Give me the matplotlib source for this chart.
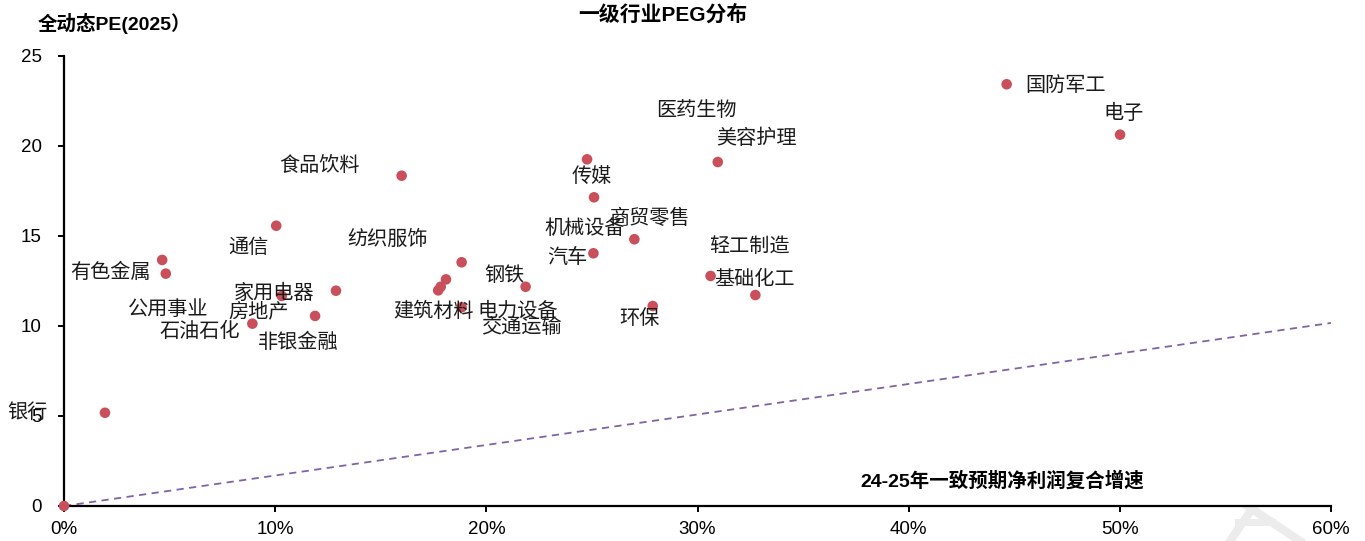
import matplotlib
matplotlib.use("Agg")
import matplotlib.pyplot as plt
from matplotlib.ticker import FuncFormatter
from matplotlib.lines import Line2D

# ---- data ----
industries = ["银行", "有色金属", "公用事业", "通信", "食品饮料", "石油石化", "房地产",
              "非银金融", "家用电器", "纺织服饰", "电力设备", "建筑材料", "机械设备",
              "交通运输", "钢铁", "医药生物", "传媒", "汽车", "商贸零售", "环保",
              "美容护理", "轻工制造", "基础化工", "国防军工", "电子", ""]
growth = [1.94, 4.82, 4.65, 10.05, 15.99, 8.92, 10.31,
          11.89, 12.88, 18.83, 18.09, 17.84, 17.72,
          18.83, 21.86, 24.77, 25.10, 25.07, 27.01, 27.88,
          30.96, 30.62, 32.74, 44.64, 50.01, 0.0]          # %
pe = [5.18, 12.91, 13.67, 15.57, 18.35, 10.13, 11.67,
      10.56, 11.96, 13.54, 12.59, 12.18, 11.98,
      11.04, 12.18, 19.26, 17.15, 14.04, 14.82, 11.11,
      19.11, 12.78, 11.72, 23.43, 20.63, 0.0]

peg_line_x = [0, 60]
peg_line_y = [0, 10.17]

x_ticks = [0, 10, 20, 30, 40, 50, 60]
y_ticks = [0, 5, 10, 15, 20, 25]

# label placement (data coords, centre of text)
label_x = [-1.75, 2.18, 4.92, 8.72, 12.12, 6.42, 9.23,
           11.08, 9.94, 15.30, 21.50, 17.52, 24.67,
           21.64, 20.86, 29.93, 25.00, 23.82, 27.75, 27.23,
           32.77, 32.44, 32.68, 47.45, 50.20, 0]
label_y = [5.22, 12.97, 10.94, 14.39, 18.94, 9.68, 10.78,
           9.06, 11.83, 14.83, 10.78, 10.78, 15.39,
           9.89, 12.78, 21.96, 18.28, 13.78, 16.00, 10.39,
           20.44, 14.39, 12.61, 23.36, 21.83, 0]

CJK = ["Noto Sans CJK SC", "DejaVu Sans"]
MIX = ["Liberation Sans", "Noto Sans CJK SC", "DejaVu Sans"]

fig = plt.figure(figsize=(13.65, 5.41), dpi=100)
ax = fig.add_axes([64 / 1365, 1 - 506 / 541, (1331 - 64) / 1365, (506 - 56) / 541])

ax.plot(peg_line_x, peg_line_y, linestyle=(0, (4, 3)), color="#8064A2", lw=1.3, zorder=2)
ax.scatter(growth, pe, s=58, color="#C9505B", edgecolors="none", zorder=3, clip_on=False)

for name, lx, ly in zip(industries, label_x, label_y):
    if name:
        ax.text(lx, ly, name, ha="center", va="center", fontsize=14.5,
                family=CJK, color="#1a1a1a", clip_on=False, zorder=4)

ax.set_xlim(0, 60)
ax.set_ylim(0, 25)
ax.set_xticks(x_ticks)
ax.set_yticks(y_ticks)
ax.xaxis.set_major_formatter(FuncFormatter(lambda v, p: f"{v:.0f}%"))
for s in ["top", "right"]:
    ax.spines[s].set_visible(False)
for s in ["left", "bottom"]:
    ax.spines[s].set_linewidth(1.6)
ax.tick_params(axis="both", direction="out", length=4, width=1.4, labelsize=13.5)
ax.tick_params(axis="x", pad=7)
ax.tick_params(axis="y", pad=12)
for lab in ax.get_xticklabels() + ax.get_yticklabels():
    lab.set_family(MIX)

fig.text(663 / 1365, 1 - 15 / 541, "一级行业PEG分布", ha="center", va="center",
         fontsize=15, fontweight="bold", family=MIX)
fig.text(38 / 1365, 1 - 23 / 541, "全动态PE(2025）", ha="left", va="center",
         fontsize=14, fontweight="bold", family=MIX)
fig.text(1002 / 1365, 1 - 481 / 541, "24-25年一致预期净利润复合增速", ha="center", va="center",
         fontsize=14, fontweight="bold", family=MIX)

# faint watermark strokes
wm = "#ececec"
fig.add_artist(Line2D([1230 / 1365, 1254 / 1365], [1 - 541 / 541, 1 - 506 / 541],
                      transform=fig.transFigure, color=wm, lw=6, zorder=0))
fig.add_artist(Line2D([1246 / 1365, 1300 / 1365], [1 - 505 / 541, 1 - 541 / 541],
                      transform=fig.transFigure, color=wm, lw=6, zorder=0))
fig.add_artist(Line2D([1238 / 1365, 1272 / 1365], [1 - 522 / 541, 1 - 522 / 541],
                      transform=fig.transFigure, color=wm, lw=5, zorder=0))

fig.savefig("out.png", dpi=100)
